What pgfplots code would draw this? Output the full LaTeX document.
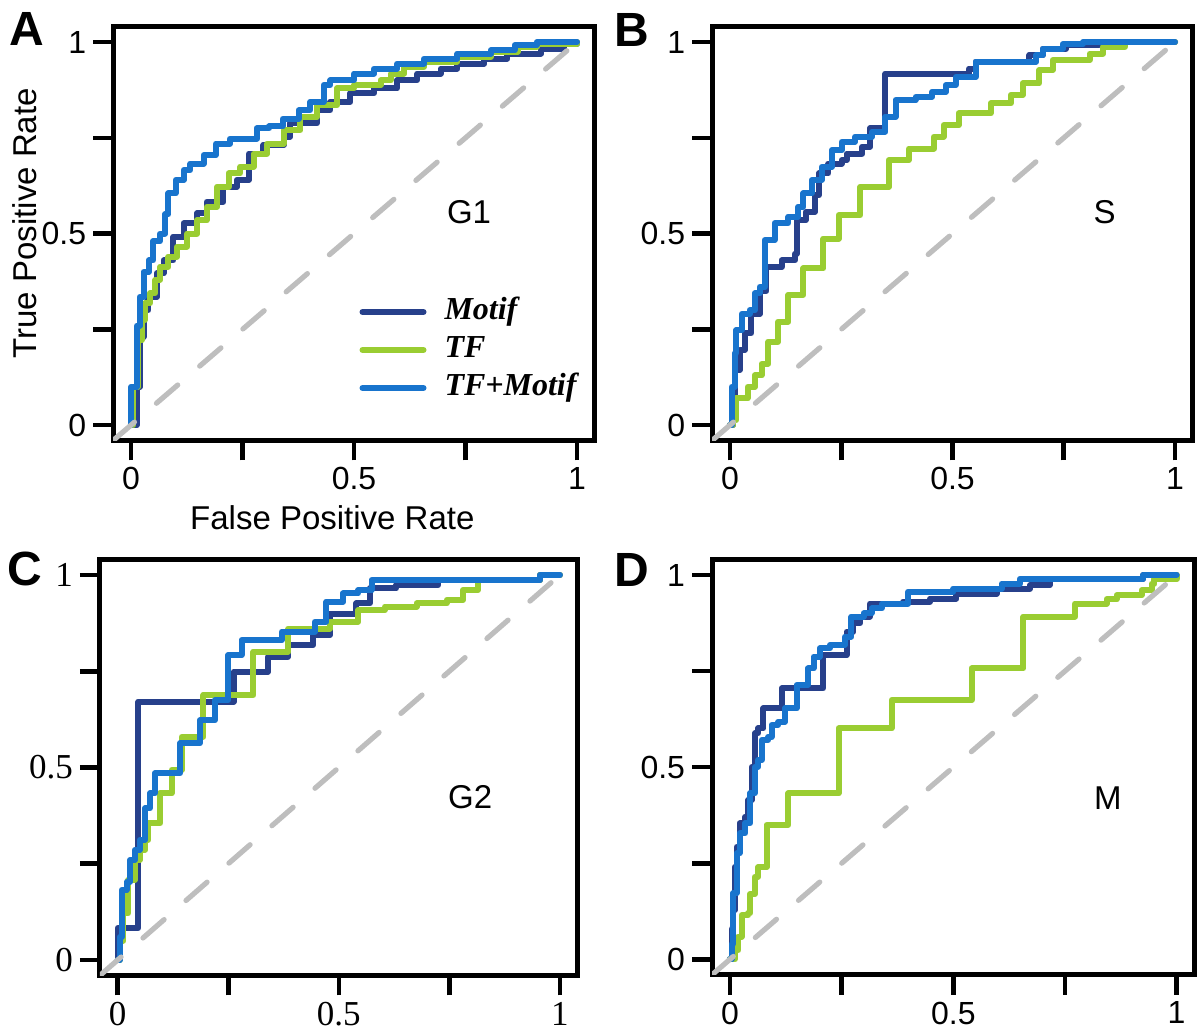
\documentclass[border=0pt]{standalone}
\usepackage{fontspec}
\setmainfont{Liberation Sans}
\newfontfamily\serif{Liberation Serif}
\usepackage{pgfplots}
\pgfplotsset{compat=1.18}

\definecolor{motif}{RGB}{39,64,139}
\definecolor{tf}{RGB}{154,205,50}
\definecolor{both}{RGB}{24,116,205}
\definecolor{diag}{RGB}{190,190,190}

\pgfplotsset{
  roc/.style={
    scale only axis,
    xmin=-0.04, xmax=1.04, ymin=-0.04, ymax=1.04,
    axis line style={line width=2.5pt, line cap=rect},
    tick align=outside, major tick length=10pt,
    every tick/.style={black, line width=2.3pt},
    xtick pos=bottom, ytick pos=left,
    xtick={0,0.25,0.5,0.75,1}, ytick={0,0.25,0.5,0.75,1},
    xticklabels={0,,0.5,,1}, yticklabels={0,,0.5,,1},
    tick label style={font=\fontsize{16}{16}\selectfont},
  },
  curve/.style={const plot, line width=3pt, line cap=round, line join=round},
  diagline/.style={diag, line width=2.6pt, line cap=round, dash pattern=on 14pt off 14.5pt, forget plot},
}
\tikzset{tag/.style={font=\fontsize{16.5}{16.5}\selectfont}}

\begin{document}
\begin{tikzpicture}
\useasboundingbox (0,0) rectangle (600pt,517pt);

% A
\begin{axis}[roc, at={(56.6pt,296.8pt)}, anchor=south west, width=240.8pt, height=206.8pt,
  xlabel={False Positive Rate}, ylabel={True Positive Rate},
  label style={font=\fontsize{16.5}{16.5}\selectfont},
  xlabel style={at={(ticklabel cs:0.455)}, yshift=-1pt},
  ylabel style={at={(ticklabel cs:0.525,-4.5pt)}},
  legend style={at={(axis cs:0.498,0.355)}, anchor=north west, draw=none, fill=none,
    font=\serif\bfseries\itshape\fontsize{16}{16}\selectfont, row sep=0.5pt, column sep=7pt,
    nodes={inner sep=2pt, text height=11pt, text depth=3.5pt}, cells={anchor=west}},
  legend image code/.code={\draw[#1] (0pt,0pt) -- (30.5pt,0pt);}]
\addplot[curve, motif] coordinates {(0,0)(0.013,0.10)(0.02,0.23)(0.028,0.30)(0.039,0.335)(0.058,0.396)(0.073,0.43)(0.095,0.492)(0.118,0.527)(0.148,0.553)(0.17,0.583)(0.207,0.622)(0.237,0.64)(0.264,0.709)(0.297,0.731)(0.342,0.753)(0.357,0.788)(0.417,0.822)(0.447,0.844)(0.492,0.866)(0.545,0.879)(0.597,0.901)(0.642,0.918)(0.694,0.931)(0.732,0.944)(0.792,0.957)(0.844,0.970)(0.919,0.983)(0.97,0.996)(1,1)};
\addlegendentry{Motif}
\addplot[curve, tf] coordinates {(0,0)(0.005,0.10)(0.016,0.222)(0.024,0.274)(0.031,0.318)(0.043,0.344)(0.054,0.379)(0.065,0.413)(0.084,0.44)(0.103,0.466)(0.125,0.50)(0.148,0.535)(0.17,0.57)(0.193,0.622)(0.219,0.657)(0.245,0.675)(0.275,0.709)(0.305,0.735)(0.342,0.77)(0.38,0.805)(0.417,0.835)(0.462,0.879)(0.50,0.888)(0.56,0.90)(0.582,0.918)(0.612,0.936)(0.657,0.949)(0.732,0.962)(0.807,0.975)(0.867,0.988)(0.91,0.995)(1,1)};
\addlegendentry{TF}
\addplot[curve, both] coordinates {(0,0)(0,0.10)(0.013,0.26)(0.02,0.335)(0.028,0.40)(0.04,0.43)(0.05,0.48)(0.065,0.50)(0.076,0.55)(0.084,0.605)(0.10,0.64)(0.118,0.666)(0.133,0.683)(0.163,0.705)(0.19,0.735)(0.222,0.748)(0.282,0.775)(0.31,0.78)(0.34,0.80)(0.376,0.822)(0.402,0.844)(0.432,0.888)(0.447,0.90)(0.50,0.918)(0.545,0.931)(0.597,0.944)(0.657,0.957)(0.732,0.970)(0.807,0.979)(0.86,0.992)(0.91,1)(1,1)};
\addlegendentry{TF+Motif}
\addplot[diagline] coordinates {(-0.04,-0.04)(1,1)};
\node[tag] at (axis cs:0.758,0.556) {G1};
\end{axis}

% B
\begin{axis}[roc, at={(356.1pt,296.8pt)}, anchor=south west, width=240.3pt, height=206.8pt]
\addplot[curve, motif] coordinates {(0,0)(0.007,0.02)(0.011,0.144)(0.022,0.196)(0.033,0.24)(0.048,0.29)(0.067,0.35)(0.082,0.413)(0.116,0.43)(0.146,0.448)(0.15,0.535)(0.17,0.557)(0.191,0.60)(0.20,0.657)(0.221,0.683)(0.251,0.692)(0.262,0.709)(0.297,0.727)(0.315,0.775)(0.349,0.918)(0.537,0.931)(0.552,0.949)(0.673,0.966)(0.703,0.983)(0.755,0.992)(0.83,1)(1,1)};
\addplot[curve, tf] coordinates {(0,0)(0.007,0.013)(0.014,0.07)(0.04,0.10)(0.056,0.13)(0.071,0.16)(0.086,0.218)(0.108,0.27)(0.131,0.34)(0.165,0.409)(0.21,0.487)(0.244,0.548)(0.293,0.622)(0.357,0.692)(0.402,0.722)(0.458,0.753)(0.48,0.783)(0.514,0.814)(0.586,0.84)(0.631,0.862)(0.658,0.892)(0.695,0.927)(0.725,0.953)(0.808,0.97)(0.838,0.988)(0.887,1)(1,1)};
\addplot[curve, both] coordinates {(0,0)(0.004,0.10)(0.011,0.187)(0.014,0.248)(0.026,0.29)(0.044,0.30)(0.056,0.344)(0.067,0.361)(0.078,0.483)(0.10,0.527)(0.131,0.544)(0.153,0.57)(0.165,0.605)(0.184,0.64)(0.206,0.674)(0.229,0.718)(0.251,0.74)(0.281,0.753)(0.319,0.766)(0.349,0.805)(0.372,0.849)(0.417,0.857)(0.454,0.87)(0.485,0.888)(0.507,0.909)(0.552,0.949)(0.688,0.966)(0.703,0.983)(0.748,0.995)(0.793,1)(1,1)};
\addplot[diagline] coordinates {(-0.04,-0.04)(1,1)};
\node[tag] at (axis cs:0.842,0.556) {S};
\end{axis}

% C
\begin{axis}[roc, at={(50pt,29.3pt)}, anchor=south west, width=238.8pt, height=207.9pt,
  tick label style={font=\serif\fontsize{17.5}{17.5}\selectfont}]
\addplot[curve, motif] coordinates {(0,0)(0,0.083)(0.047,0.671)(0.262,0.749)(0.34,0.788)(0.385,0.818)(0.442,0.844)(0.48,0.90)(0.54,0.926)(0.57,0.965)(0.63,0.974)(0.725,0.987)(0.955,1)(1,1)};
\addplot[curve, tf] coordinates {(0,0)(0.005,0.05)(0.013,0.121)(0.024,0.208)(0.039,0.26)(0.05,0.286)(0.062,0.312)(0.069,0.355)(0.096,0.433)(0.122,0.494)(0.145,0.58)(0.194,0.688)(0.307,0.801)(0.386,0.861)(0.48,0.879)(0.544,0.909)(0.604,0.918)(0.676,0.926)(0.744,0.935)(0.781,0.961)(0.815,0.987)(0.955,1)(1,1)};
\addplot[curve, both] coordinates {(0,0)(0.005,0.06)(0.009,0.182)(0.02,0.203)(0.028,0.26)(0.039,0.286)(0.05,0.312)(0.062,0.394)(0.073,0.433)(0.084,0.485)(0.141,0.563)(0.186,0.623)(0.22,0.675)(0.25,0.792)(0.28,0.831)(0.371,0.853)(0.446,0.879)(0.472,0.931)(0.51,0.952)(0.544,0.961)(0.574,0.987)(0.955,1)(1,1)};
\addplot[diagline] coordinates {(-0.04,-0.04)(1,1)};
\node[tag] at (axis cs:0.797,0.423) {G2};
\end{axis}

% D
\begin{axis}[roc, at={(356.05pt,29.65pt)}, anchor=south west, width=241.2pt, height=207.5pt]
\addplot[curve, motif] coordinates {(0,0)(0.004,0.08)(0.007,0.128)(0.011,0.241)(0.015,0.293)(0.022,0.354)(0.034,0.371)(0.041,0.415)(0.049,0.501)(0.056,0.588)(0.063,0.601)(0.075,0.653)(0.116,0.705)(0.209,0.792)(0.261,0.853)(0.276,0.874)(0.291,0.892)(0.313,0.926)(0.388,0.931)(0.448,0.939)(0.507,0.952)(0.597,0.965)(0.672,0.974)(0.716,0.99)(0.925,1)(1,1)};
\addplot[curve, tf] coordinates {(0,0)(0.011,0.024)(0.019,0.059)(0.026,0.115)(0.041,0.12)(0.045,0.17)(0.056,0.215)(0.063,0.24)(0.082,0.35)(0.131,0.432)(0.243,0.601)(0.362,0.675)(0.541,0.757)(0.657,0.892)(0.772,0.926)(0.843,0.937)(0.866,0.948)(0.922,0.961)(0.944,0.978)(0.95,0.99)(1,1)};
\addplot[curve, both] coordinates {(0,0)(0.004,0.04)(0.007,0.172)(0.015,0.276)(0.022,0.328)(0.034,0.354)(0.045,0.432)(0.056,0.501)(0.063,0.519)(0.071,0.571)(0.086,0.579)(0.093,0.61)(0.108,0.618)(0.123,0.653)(0.149,0.714)(0.175,0.757)(0.187,0.788)(0.201,0.809)(0.224,0.818)(0.257,0.84)(0.272,0.892)(0.299,0.90)(0.317,0.913)(0.34,0.926)(0.399,0.957)(0.50,0.965)(0.608,0.978)(0.649,0.99)(0.925,1)(1,1)};
\addplot[diagline] coordinates {(-0.04,-0.04)(1,1)};
\node[tag] at (axis cs:0.846,0.42) {M};
\end{axis}

\node[font=\bfseries\fontsize{24}{24}\selectfont] at (13.5pt,502.5pt) {A};
\node[font=\bfseries\fontsize{24}{24}\selectfont] at (316pt,502pt) {B};
\node[font=\bfseries\fontsize{24}{24}\selectfont] at (12.5pt,232.5pt) {C};
\node[font=\bfseries\fontsize{24}{24}\selectfont] at (316pt,232pt) {D};
\end{tikzpicture}
\end{document}
